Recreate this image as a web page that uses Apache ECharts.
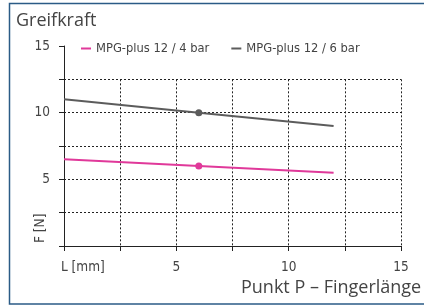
<!DOCTYPE html>
<html>
<head>
<meta charset="utf-8">
<script src="https://cdn.jsdelivr.net/npm/echarts@6/dist/echarts.min.js"></script>
<style>
  html, body { margin: 0; padding: 0; background: #fff; }
  #main { width: 424px; height: 307px; }
</style>
</head>
<body>
<div id="main"></div>
<script>
 var myChart = echarts.init(document.getElementById('main'));

 // Fingerlänge L [mm]
 var lengths = [0, 6, 12];
 // Greifkraft F [N]
 var force4bar = [6.5, 6, 5.5];
 var force6bar = [11, 10, 9];
 var seriesNames = ['MPG-plus 12 / 4 bar', 'MPG-plus 12 / 6 bar'];
 var yTickLabels = { 5: '5', 10: '10', 15: '15' };
 var xTickLabels = { 5: '5', 10: '10', 15: '15' };

 var font = '"Liberation Sans Narrow", "DejaVu Sans Condensed", "Roboto", sans-serif';
 var textColor = '#444';
 var dotted = { color: '#222', type: [2, 2], width: 1 };

 function pairs(xs, ys) {
   return xs.map(function (x, i) { return [x, ys[i]]; });
 }

 var option = {
    animation: false,
    textStyle: { fontFamily: font },
    title: {
        text: 'Greifkraft',
        left: 11,
        top: 7,
        textStyle: { fontFamily: '"Open Sans", sans-serif', fontSize: 18, fontWeight: 'normal', color: textColor }
    },
    legend: {
        left: 76,
        top: 37,
        itemWidth: 10,
        itemHeight: 2,
        itemGap: 22,
        icon: 'rect',
        textStyle: { fontFamily: font, fontSize: 12.8, color: textColor },
        data: seriesNames
    },
    grid: [
        { left: 64, right: 23, top: 46, bottom: 61 },
        // nur für die gepunkteten Hilfslinien (bis 12.5)
        { left: 64, right: 23, top: 79.33, bottom: 61 }
    ],
    xAxis: [
        {
            type: 'value', gridIndex: 0, min: 0, max: 15, interval: 2.5,
            axisLine: { lineStyle: { color: '#222', width: 1 } },
            axisTick: { show: true, length: 5, lineStyle: { color: '#222' } },
            axisLabel: {
                margin: 14, fontSize: 13.5, color: textColor, fontFamily: font,
                formatter: function (v) { return xTickLabels[v] || ''; }
            },
            splitLine: { show: false }
        },
        {
            type: 'value', gridIndex: 1, min: 0, max: 15, interval: 2.5,
            axisLine: { show: false }, axisTick: { show: false }, axisLabel: { show: false },
            splitLine: { show: true, showMinLine: false, lineStyle: dotted }
        }
    ],
    yAxis: [
        {
            type: 'value', gridIndex: 0, min: 0, max: 15, interval: 2.5,
            axisLine: { show: true, lineStyle: { color: '#222', width: 1 } },
            axisTick: { show: true, length: 5, lineStyle: { color: '#222' } },
            axisLabel: {
                margin: 14, fontSize: 13.5, color: textColor, fontFamily: font,
                formatter: function (v) { return yTickLabels[v] || ''; }
            },
            splitLine: { show: false }
        },
        {
            type: 'value', gridIndex: 1, min: 0, max: 12.5, interval: 2.5,
            axisLine: { show: false }, axisTick: { show: false }, axisLabel: { show: false },
            splitLine: { show: true, showMinLine: false, lineStyle: dotted }
        }
    ],
    graphic: [
        {
            type: 'rect', silent: true,
            shape: { x: 9.5, y: 3.5, width: 430, height: 300.5 },
            style: { fill: 'none', stroke: '#2b5b86', lineWidth: 1.5 }
        },
        {
            type: 'text', left: 61, top: 260,
            style: { text: 'L [mm]', font: '13.5px ' + font, fill: textColor }
        },
        {
            type: 'text', left: 241, top: 279,
            style: { text: 'Punkt P – Fingerlänge', font: '18px "Open Sans", sans-serif', fill: textColor }
        },
        {
            type: 'text', x: 33, y: 243, rotation: Math.PI / 2,
            style: { text: 'F [N]', font: '13.5px ' + font, fill: textColor }
        }
    ],
    series: [
        {
            name: seriesNames[0],
            type: 'line',
            xAxisIndex: 0, yAxisIndex: 0,
            data: pairs(lengths, force4bar),
            lineStyle: { color: '#e0399a', width: 2 },
            itemStyle: { color: '#e0399a' },
            symbol: 'circle',
            showSymbol: true,
            symbolSize: function (v, p) { return p.dataIndex === 1 ? 7 : 0; },
            z: 5
        },
        {
            name: seriesNames[1],
            type: 'line',
            xAxisIndex: 0, yAxisIndex: 0,
            data: pairs(lengths, force6bar),
            lineStyle: { color: '#5c5c5c', width: 2 },
            itemStyle: { color: '#5c5c5c' },
            symbol: 'circle',
            showSymbol: true,
            symbolSize: function (v, p) { return p.dataIndex === 1 ? 7 : 0; },
            z: 5
        }
    ]
 };

 myChart.setOption(option);
</script>
</body>
</html>
